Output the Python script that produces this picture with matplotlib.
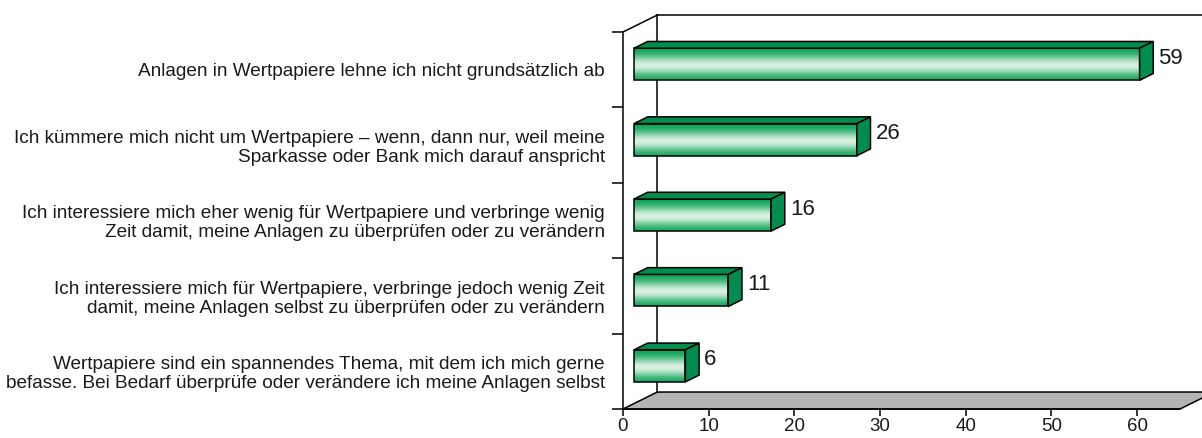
import matplotlib
matplotlib.use("Agg")
import matplotlib.pyplot as plt
import numpy as np
from matplotlib.patches import Polygon, Rectangle
from matplotlib.colors import to_rgb

# data, bottom to top
categories = [
    "Wertpapiere sind ein spannendes Thema, mit dem ich mich gerne\n"
    "befasse. Bei Bedarf überprüfe oder verändere ich meine Anlagen selbst",
    "Ich interessiere mich für Wertpapiere, verbringe jedoch wenig Zeit\n"
    "damit, meine Anlagen selbst zu überprüfen oder zu verändern",
    "Ich interessiere mich eher wenig für Wertpapiere und verbringe wenig\n"
    "Zeit damit, meine Anlagen zu überprüfen oder zu verändern",
    "Ich kümmere mich nicht um Wertpapiere – wenn, dann nur, weil meine\n"
    "Sparkasse oder Bank mich darauf anspricht",
    "Anlagen in Wertpapiere lehne ich nicht grundsätzlich ab",
]
values = [6, 11, 16, 26, 59]
x_ticks = [0, 10, 20, 30, 40, 50, 60]

# style
plt.rcParams["font.family"] = ["Liberation Sans", "DejaVu Sans"]
TEXT = "#1a1a1a"
GREEN_DARK = "#00a04e"
GREEN_LIGHT = "#d8f0e0"
GREEN_FACE = "#008c4c"
FLOOR = "#b4b4b4"

XMAX = 65
DX, DY = 4.0, 0.225          # depth of the 3d box in data units
F, B = 0.32, 0.72            # bar front / back position within depth
BAR_H = 0.425

fig = plt.figure(figsize=(12.02, 4.38), dpi=100)
ax = fig.add_axes([623 / 1202, 29 / 438, 557 / 1202, 377 / 438])

# floor
ax.add_patch(Polygon([(0, -0.5), (XMAX, -0.5), (XMAX + DX, -0.5 + DY), (DX, -0.5 + DY)],
                     closed=True, facecolor=FLOOR, edgecolor="black", lw=1.1,
                     clip_on=False, zorder=1))
# back wall lines
ax.plot([DX, DX], [-0.5 + DY, 4.5 + DY], color="black", lw=1.1, clip_on=False, zorder=1)
ax.plot([DX, XMAX + 20], [4.5 + DY, 4.5 + DY], color="black", lw=1.1, clip_on=False, zorder=1)
ax.plot([0, DX], [4.5, 4.5 + DY], color="black", lw=1.1, clip_on=False, zorder=1)

# gradient for bar fronts (top -> bottom)
c1 = np.array(to_rgb(GREEN_DARK))
c2 = np.array(to_rgb(GREEN_LIGHT))
t = np.linspace(0, 1, 64)
w = np.exp(-((t - 0.55) / 0.3) ** 2)
grad = (c1[None, :] * (1 - w[:, None]) + c2[None, :] * w[:, None])[:, None, :]

for i, v in enumerate(values):
    bot, top = i - BAR_H / 2, i + BAR_H / 2
    fx, fy = F * DX, F * DY
    bx, by = B * DX, B * DY
    ax.imshow(grad, extent=(fx, v + fx, bot + fy, top + fy), aspect="auto",
              interpolation="bilinear", zorder=3)
    ax.add_patch(Rectangle((fx, bot + fy), v, BAR_H, facecolor="none",
                           edgecolor="black", lw=1.1, zorder=4))
    ax.add_patch(Polygon([(fx, top + fy), (v + fx, top + fy), (v + bx, top + by), (bx, top + by)],
                         closed=True, facecolor=GREEN_FACE, edgecolor="black", lw=1.1, zorder=4))
    ax.add_patch(Polygon([(v + fx, bot + fy), (v + fx, top + fy), (v + bx, top + by), (v + bx, bot + by)],
                         closed=True, facecolor=GREEN_FACE, edgecolor="black", lw=1.1, zorder=4))
    ax.text(v + bx + 0.6, i + 0.15, str(v), ha="left", va="center",
            fontsize=16, color=TEXT)

ax.set_xlim(0, XMAX)
ax.set_ylim(-0.5, 4.5)

for s in ["top", "right"]:
    ax.spines[s].set_visible(False)
ax.spines["left"].set_linewidth(1.1)
ax.spines["bottom"].set_linewidth(1.1)

ax.set_xticks(x_ticks)
ax.tick_params(axis="x", direction="out", length=5, width=1.1, pad=1.5,
               labelsize=13.5, labelcolor=TEXT)
ax.set_yticks(range(len(categories)))
ax.set_yticklabels(categories, fontsize=13.7, color=TEXT, linespacing=1.15)
ax.tick_params(axis="y", which="major", length=0, pad=13)
ax.set_yticks(np.arange(-0.5, len(categories), 1.0), minor=True)
ax.tick_params(axis="y", which="minor", direction="out", length=8, width=1.1)

fig.savefig("out.png", dpi=100)
